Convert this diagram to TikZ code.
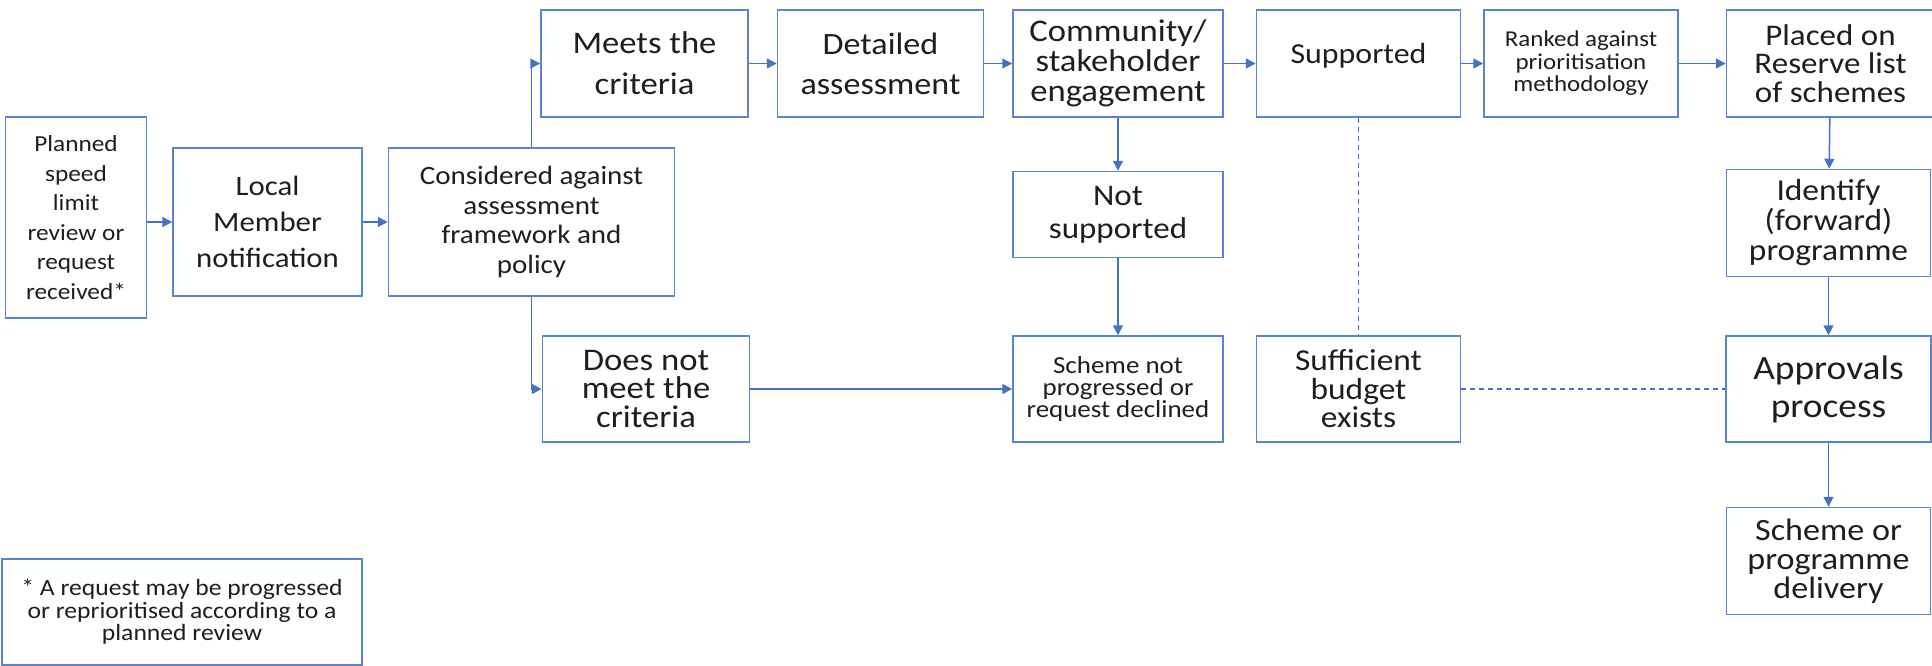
\documentclass[tikz,border=0pt]{standalone}
\usepackage{fontspec}
\setmainfont{Carlito}[FakeStretch=1.1]
\usepackage{tikz}
\usetikzlibrary{arrows.meta,positioning}
\usepackage{xcolor}
\definecolor{boxBlue}{RGB}{88,132,208}
\definecolor{lineBlue}{RGB}{68,114,196}
\definecolor{txtGrey}{RGB}{30,30,30}

\begin{document}
\lineskiplimit=-\maxdimen
\begin{tikzpicture}[
  x=1pt, y=-1pt,
  box/.style={draw=boxBlue, line width=1.5pt, fill=white, text=txtGrey,
              align=center, inner sep=2pt},
  arr/.style={-{Triangle[length=10pt, width=10pt]}, line width=1.5pt, lineBlue},
  link/.style={line width=1.3pt, lineBlue, dash pattern=on 5pt off 4pt}
]
\useasboundingbox (0,0) rectangle (1932,666);

% Zeile 2: Eingang
\node[box, minimum width=189pt, minimum height=148pt, font=\fontsize{28}{36}\selectfont] (local) at (267.5,222) {Local\\Member\\notification};
\node[box, left=25pt of local, yshift=4.5pt, minimum width=141pt, minimum height=201pt, font=\fontsize{23}{29.5}\selectfont] (plan) {Planned\\speed\\limit\\review or\\request\\received*};
\node[box, right=25pt of local, minimum width=286pt, minimum height=148pt, font=\fontsize{26.4}{29.5}\selectfont] (cons) {Considered against\\assessment\\framework and\\policy};

% Zeile 1: Bewertung
\node[box, minimum width=207pt, minimum height=107pt, font=\fontsize{31.5}{41}\selectfont] (meets) at (644.5,63.5) {Meets the\\criteria};
\node[box, right=28pt of meets, minimum width=206pt, minimum height=107pt, font=\fontsize{31}{40}\selectfont] (detail) {Detailed\\assessment};
\node[box, right=28pt of detail, minimum width=210pt, minimum height=107pt, font=\fontsize{31.5}{30}\selectfont] (comm) {Community/\\stakeholder\\engagement};
\node[box, right=32pt of comm, minimum width=204pt, minimum height=107pt, text depth=20pt, font=\fontsize{29}{34}\selectfont] (supp) {Supported};
\node[box, right=22pt of supp, minimum width=194pt, minimum height=107pt, font=\fontsize{22.7}{22.5}\selectfont] (rank) {Ranked against\\prioritisation\\methodology};
\node[box, right=47pt of rank, minimum width=208pt, minimum height=107pt, font=\fontsize{30}{28.5}\selectfont] (place) {Placed on\\Reserve list\\of schemes};

% Spalte unter Beteiligung
\node[box, below=53pt of comm, minimum width=210pt, minimum height=86pt, font=\fontsize{30}{33}\selectfont] (notsup) {Not\\supported};
\node[box, below=77pt of notsup, minimum width=210pt, minimum height=106pt, font=\fontsize{24.5}{22}\selectfont] (declined) {Scheme not\\progressed or\\request declined};

% Zeile 3
\node[box, left=262pt of declined, minimum width=207pt, minimum height=106pt, font=\fontsize{31.5}{28.5}\selectfont] (notmeet) {Does not\\meet the\\criteria};
\node[box, right=32pt of declined, minimum width=204pt, minimum height=106pt, font=\fontsize{30.4}{28.5}\selectfont] (budget) {Sufficient\\budget\\exists};
\node[box, right=264pt of budget, minimum width=205pt, minimum height=106pt, font=\fontsize{34}{38}\selectfont] (approv) {Approvals\\process};
\node[box, above=58pt of approv, minimum width=204pt, minimum height=107pt, font=\fontsize{30.4}{30}\selectfont] (ident) {Identify\\(forward)\\programme};
\node[box, below=64pt of approv, minimum width=204pt, minimum height=107pt, font=\fontsize{31}{29}\selectfont] (deliv) {Scheme or\\programme\\delivery};

% Fussnote
\node[box, minimum width=360pt, minimum height=106pt, font=\fontsize{23.3}{22.5}\selectfont] (note) at (182,612) {* A request may be progressed\\or reprioritised according to a\\planned review};

% Verbindungen
\draw[arr] (plan.east |- local.west) -- (local.west);
\draw[arr] (local) -- (cons);
\draw[arr] (cons.north) |- (meets.west);
\draw[arr] (cons.south) |- (notmeet.west);

\draw[arr] (meets) -- (detail);
\draw[arr] (detail) -- (comm);
\draw[arr] (comm) -- (supp);
\draw[arr] (supp) -- (rank);
\draw[arr] (rank) -- (place);

\draw[arr] (comm) -- (notsup);
\draw[arr] (notsup) -- (declined);
\draw[arr] (notmeet) -- (declined);

\draw[link] (supp) -- (budget);
\draw[link] (budget) -- (approv);

\draw[arr] (place) -- (ident);
\draw[arr] (ident) -- (approv);
\draw[arr] (approv) -- (deliv);

\end{tikzpicture}
\end{document}
